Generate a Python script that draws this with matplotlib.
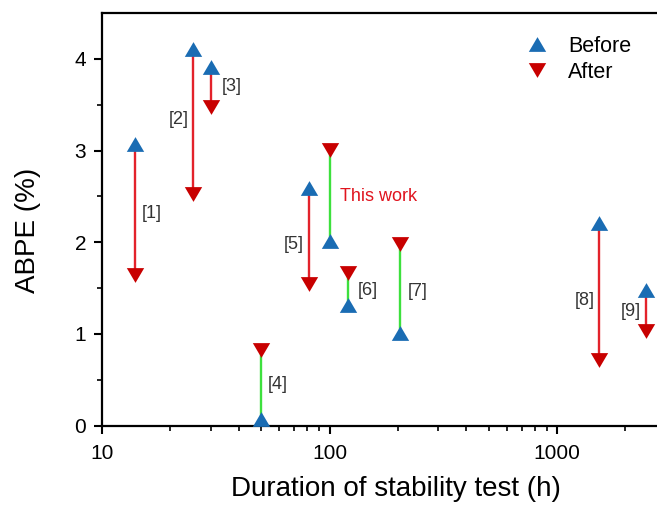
import numpy as np
import matplotlib
matplotlib.use("Agg")
import matplotlib.pyplot as plt
from matplotlib.ticker import LogLocator, NullFormatter, FixedLocator, FixedFormatter

plt.rcParams['font.family'] = ['Liberation Sans', 'DejaVu Sans']

# Data
refs = ['[1]', '[2]', '[3]', '[4]', '[5]', 'This work', '[6]', '[7]', '[8]', '[9]']
duration = [14, 25, 30, 50, 81, 100, 121, 205, 1530, 2450]
abpe_before = [3.07, 4.11, 3.91, 0.07, 2.59, 2.01, 1.32, 1.01, 2.21, 1.48]
abpe_after = [1.64, 2.53, 3.47, 0.83, 1.54, 3.01, 1.67, 1.98, 0.72, 1.03]

# label placement (pixels from segment middle)
label_dx = [7, -4, 11, 7, -5, 11, 9, 7, -4, -5]
label_dy = [-4, 2, 1, 0, -8, -1, -2, -3, -9, -1]

blue = '#1a6cb3'
red = '#c80000'
line_red = '#e3222b'
green = '#3de03d'

# wider-than-tall triangles like the original
tri_up = [(-1, -0.85), (1, -0.85), (0, 0.85), (-1, -0.85)]
tri_down = [(-1, 0.85), (1, 0.85), (0, -0.85), (-1, 0.85)]

px_per_decade = 227.5
fig = plt.figure(figsize=(6.57, 5.08), dpi=100)
ax = fig.add_axes([102 / 657, 82.3 / 508, 588 / 657, 412.7 / 508])

for x, b, a in zip(duration, abpe_before, abpe_after):
    c = green if a > b else line_red
    ax.plot([x, x], [b, a], color=c, lw=1.7, zorder=2)

ax.plot(duration, abpe_before, linestyle='none', marker=tri_up, ms=12.5,
        color=blue, mec=blue, mew=0, label='Before', zorder=3, clip_on=False)
ax.plot(duration, abpe_after, linestyle='none', marker=tri_down, ms=12.5,
        color=red, mec=red, mew=0, label='After', zorder=3, clip_on=False)

for name, x, b, a, dx, dy in zip(refs, duration, abpe_before, abpe_after, label_dx, label_dy):
    ha = 'left' if dx > 0 else 'right'
    col = '#e0141e' if name == 'This work' else '#333333'
    ax.annotate(name, xy=(x, (a + b) / 2), xytext=(dx, dy), textcoords='offset pixels',
                ha=ha, va='center', fontsize=13, color=col)

ax.set_xscale('log')
ax.set_xlim(10, 10 ** (1 + 588 / px_per_decade))
ax.set_ylim(0, 4.5)

ax.xaxis.set_major_locator(FixedLocator([10, 100, 1000]))
ax.xaxis.set_major_formatter(FixedFormatter(['10', '100', '1000']))
ax.xaxis.set_minor_locator(LogLocator(base=10, subs=np.arange(2, 10)))
ax.xaxis.set_minor_formatter(NullFormatter())
ax.set_yticks([0, 1, 2, 3, 4])
ax.set_yticks(np.arange(0.5, 4.5, 1.0), minor=True)

ax.tick_params(which='major', direction='out', length=6, width=1.5, labelsize=15)
ax.tick_params(axis='x', which='major', pad=7.5)
ax.tick_params(axis='y', which='major', pad=5.5)
ax.tick_params(which='minor', direction='out', length=3.5, width=1.2)
ax.tick_params(top=False, right=False)

for s in ['left', 'bottom', 'top']:
    ax.spines[s].set_linewidth(1.6)
ax.spines['right'].set_visible(False)

ax.set_xlabel('Duration of stability test (h)', fontsize=20, labelpad=9)
ax.set_ylabel('ABPE (%)', fontsize=20)
ax.yaxis.set_label_coords(-0.104, 0.474)

ax.legend(loc='upper left', bbox_to_anchor=(507 / 657, 1 - 27 / 508),
          bbox_transform=fig.transFigure, frameon=False, fontsize=15.5,
          handlelength=2.0, handletextpad=0.44, labelspacing=0.25,
          borderaxespad=0, borderpad=0.4)

fig.savefig('out.png', dpi=100)
